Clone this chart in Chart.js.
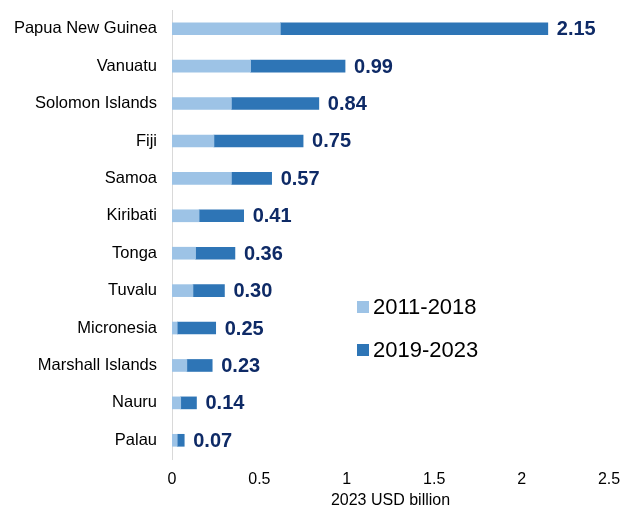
<!DOCTYPE html>
<html>
<head>
<meta charset="utf-8">
<script src="https://cdn.jsdelivr.net/npm/chart.js@4"></script>
<style>
  html, body { margin: 0; padding: 0; background: #fff; }
  #wrap { width: 623px; height: 510px; }
</style>
</head>
<body>
<div id="wrap"><canvas id="chart" width="623" height="510"></canvas></div>
<script>
// countries, top to bottom
const countries = ['Papua New Guinea', 'Vanuatu', 'Solomon Islands', 'Fiji', 'Samoa', 'Kiribati',
    'Tonga', 'Tuvalu', 'Micronesia', 'Marshall Islands', 'Nauru', 'Palau'];

// 2023 USD billion
const early = [0.62, 0.45, 0.34, 0.24, 0.34, 0.155, 0.135, 0.12, 0.03, 0.085, 0.05, 0.03];
const late  = [1.53, 0.54, 0.50, 0.51, 0.23, 0.255, 0.225, 0.18, 0.22, 0.145, 0.09, 0.04];

const seriesNames = ['2011-2018', '2019-2023'];
const xTicks = [0, 0.5, 1, 1.5, 2, 2.5];
const xTickLabels = ['0', '0.5', '1', '1.5', '2', '2.5'];

const LIGHT = '#9DC3E6';
const DARK = '#2E75B6';
const NAVY = '#0E2A66';
const FONT = 'Arial, "Liberation Sans", sans-serif';

// totals written at the end of each bar
const totalLabels = {
    id: 'totalLabels',
    afterDatasetsDraw(chart) {
        const ctx = chart.ctx;
        const meta = chart.getDatasetMeta(1);
        ctx.save();
        ctx.font = 'bold 20px ' + FONT;
        ctx.fillStyle = NAVY;
        ctx.textAlign = 'left';
        ctx.textBaseline = 'middle';
        meta.data.forEach((bar, i) => {
            const total = early[i] + late[i];
            ctx.fillText(total.toFixed(2), bar.x + 9, bar.y + 1);
        });
        ctx.restore();
    }
};

// legend inside the plot, on the right side
const boxLegend = {
    id: 'boxLegend',
    afterDraw(chart) {
        const ctx = chart.ctx;
        const x = 357, ys = [307, 350];
        ctx.save();
        ctx.font = '22px ' + FONT;
        ctx.textBaseline = 'middle';
        chart.data.datasets.forEach((ds, i) => {
            ctx.fillStyle = ds.backgroundColor;
            ctx.fillRect(x, ys[i] - 6, 12, 12);
            ctx.fillStyle = '#000';
            ctx.fillText(ds.label, x + 16, ys[i] + 1);
        });
        ctx.restore();
    }
};

new Chart(document.getElementById('chart'), {
    type: 'bar',
    data: {
        labels: countries,
        datasets: [
            { label: seriesNames[0], data: early, backgroundColor: LIGHT, barThickness: 12 },
            { label: seriesNames[1], data: late, backgroundColor: DARK, barThickness: 12 }
        ]
    },
    options: {
        indexAxis: 'y',
        responsive: false,
        animation: false,
        layout: { padding: { top: 10, right: 14, left: 0, bottom: 0 } },
        plugins: {
            legend: { display: false },
            tooltip: { enabled: false }
        },
        scales: {
            x: {
                stacked: true,
                min: 0,
                max: 2.5,
                afterBuildTicks: scale => { scale.ticks = xTicks.map(v => ({ value: v })); },
                grid: { display: false, drawTicks: false },
                border: { display: false },
                ticks: {
                    color: '#000',
                    font: { family: FONT, size: 16 },
                    padding: 11,
                    maxRotation: 0,
                    callback: (v, i) => xTickLabels[i]
                },
                title: {
                    display: true,
                    text: '2023 USD billion',
                    color: '#000',
                    font: { family: FONT, size: 16 },
                    padding: { top: 4, bottom: 0 }
                },
                afterFit: scale => {
                    scale.height = 51;
                    scale.paddingLeft = 0;
                    scale.paddingRight = 0;
                }
            },
            y: {
                stacked: true,
                grid: { display: false, drawTicks: false },
                border: { display: true, color: '#D9D9D9', width: 1 },
                ticks: {
                    color: '#000',
                    font: { family: FONT, size: 16.5 },
                    padding: 15,
                    autoSkip: false
                },
                afterFit: scale => {
                    scale.width = 172;
                    scale.paddingTop = 0;
                    scale.paddingBottom = 0;
                }
            }
        }
    },
    plugins: [totalLabels, boxLegend]
});
</script>
</body>
</html>
